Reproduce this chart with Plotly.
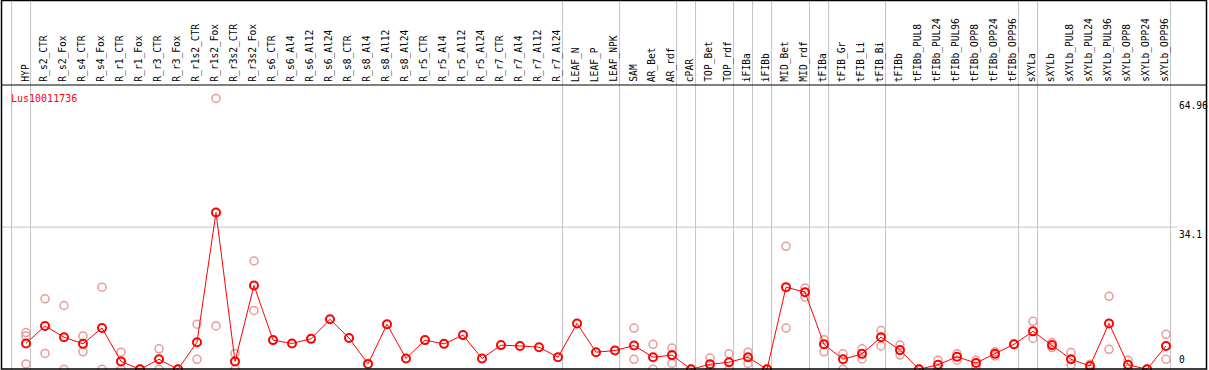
import plotly.graph_objects as go

gene = "Lus10011736"

categories = [
    "HYP", "R_s2_CTR", "R_s2_Fox", "R_s4_CTR", "R_s4_Fox", "R_r1_CTR", "R_r1_Fox",
    "R_r3_CTR", "R_r3_Fox", "R_r1s2_CTR", "R_r1s2_Fox", "R_r3s2_CTR", "R_r3s2_Fox",
    "R_s6_CTR", "R_s6_Al4", "R_s6_Al12", "R_s6_Al24", "R_s8_CTR", "R_s8_Al4",
    "R_s8_Al12", "R_s8_Al24", "R_r5_CTR", "R_r5_Al4", "R_r5_Al12", "R_r5_Al24",
    "R_r7_CTR", "R_r7_Al4", "R_r7_Al12", "R_r7_Al24", "LEAF_N", "LEAF_P", "LEAF_NPK",
    "SAM", "AR_Bet", "AR_rdf", "cPAR", "TOP_Bet", "TOP_rdf", "iFIBa", "iFIBb",
    "MID_Bet", "MID_rdf", "tFIBa", "tFIB_Gr", "tFIB_Li", "tFIB_Bi", "tFIBb",
    "tFIBb_PUL8", "tFIBb_PUL24", "tFIBb_PUL96", "tFIBb_OPP8", "tFIBb_OPP24",
    "tFIBb_OPP96", "sXYLa", "sXYLb", "sXYLb_PUL8", "sXYLb_PUL24", "sXYLb_PUL96",
    "sXYLb_OPP8", "sXYLb_OPP24", "sXYLb_OPP96",
]

means = [
    6.2, 10.4, 7.7, 6.1, 9.9, 1.9, 0.0, 2.4, 0.0, 6.5, 37.6, 1.9, 20.1,
    7.0, 6.2, 7.3, 12.0, 7.5, 1.3, 10.8, 2.6, 7.0, 6.1, 8.2, 2.6,
    5.8, 5.6, 5.3, 2.9, 11.0, 4.1, 4.5,
    5.7, 2.9, 3.4, 0.0, 1.2, 1.7, 2.9, 0.0,
    19.7, 18.5, 6.0, 2.4, 3.7, 7.7, 4.6,
    0.0, 1.1, 3.0, 1.5, 3.7, 6.0,
    9.1, 5.8, 2.4, 0.8, 11.0, 1.1, 0.0, 5.6,
]

N = None
rep1 = [
    8.8, 16.9, 15.3, 8.0, 19.7, 4.1, 0.0, 4.9, 0.0, 10.8, 64.96, 3.8, 26.0,
    N, N, N, N, N, N, N, N, N, N, N, N, N, N, N, N, N, N, N,
    9.9, 6.0, 5.1, 0.0, 2.7, 3.7, 4.1, 0.0,
    29.5, 19.5, 7.1, 3.7, 4.9, 9.3, 5.8,
    0.0, 2.2, 3.7, 2.2, 4.2, 6.0,
    11.5, 6.4, 4.0, 1.2, 17.5, 2.2, 0.0, 8.4,
]
rep2 = [
    8.0, 3.8, 0.0, 4.2, 0.0, 0.0, 0.0, 0.0, 0.0, 2.4, 10.4, 0.0, 14.1,
    N, N, N, N, N, N, N, N, N, N, N, N, N, N, N, N, N, N, N,
    2.4, 0.0, 1.4, 0.0, 0.0, 0.0, 1.4, 0.0,
    9.9, 17.3, 4.2, 0.0, 2.5, 5.6, 3.4,
    0.0, 0.0, 2.2, 0.6, 3.2, 6.0,
    7.4, 5.2, 1.1, 0.0, 4.8, 0.0, 0.0, 2.4,
]
rep3 = [1.3] + [N] * 60

# group separators: placed just after these column indices
separator_after = [-1, 0, 28, 31, 34, 35, 37, 38, 39, 41, 42, 45, 52, 53, 60]

y_ticks = [64.96, 34.1, 0]

W, H = 1209, 370
PX = 19.0            # px per column
X0PX = 26.0          # px of first column
PPU = 4.17           # px per unit of value
ZERO_PX = 369.3      # px (from top) of value 0

xr = [-X0PX / PX, (W - X0PX) / PX]
yr = [(ZERO_PX - H) / PPU, ZERO_PX / PPU]

xs = list(range(len(categories)))

def py(px_from_top):
    return 1 - px_from_top / H

def pxx(px):
    return px / W

fig = go.Figure()

pink = "#eb9a9a"
for reps in (rep1, rep2, rep3):
    fig.add_trace(go.Scatter(
        x=xs, y=reps, mode="markers",
        marker=dict(symbol="circle-open", size=8, color=pink, line=dict(width=1.5, color=pink)),
        hoverinfo="skip", showlegend=False,
    ))

fig.add_trace(go.Scatter(
    x=xs, y=means, mode="lines+markers",
    line=dict(color="#ff0000", width=1),
    marker=dict(symbol="circle-open", size=8, color="#ff0000", line=dict(width=2, color="#ff0000")),
    showlegend=False,
))

shapes = []
for s in separator_after:
    shapes.append(dict(type="line", xref="x", yref="paper", x0=s + 0.24, x1=s + 0.24,
                       y0=0, y1=1, line=dict(color="#c4c4c4", width=1), layer="below"))
shapes.append(dict(type="line", xref="paper", yref="y", x0=pxx(1), x1=pxx(1177),
                   y0=y_ticks[1], y1=y_ticks[1], line=dict(color="#c4c4c4", width=1), layer="below"))
shapes.append(dict(type="line", xref="paper", yref="paper", x0=pxx(1), x1=pxx(1207),
                   y0=py(85), y1=py(85), line=dict(color="#000000", width=1)))
shapes.append(dict(type="rect", xref="paper", yref="paper", x0=pxx(1.5), x1=pxx(1206.5),
                   y0=py(369), y1=py(0.5), line=dict(color="#000000", width=1.5)))

annotations = []
mono = "DejaVu Sans Mono"
for i, c in enumerate(categories):
    annotations.append(dict(
        x=i - 0.07, y=py(84), xref="x", yref="paper", text=c, showarrow=False,
        textangle=-90, xanchor="center", yanchor="bottom",
        font=dict(family=mono, size=9.6, color="#000000"),
    ))

annotations.append(dict(x=pxx(9), y=py(91), xref="paper", yref="paper", text=gene,
                        showarrow=False, xanchor="left", yanchor="top",
                        font=dict(family=mono, size=10, color="#ff0000")))

for k, anchor in enumerate(["top", "top", "bottom"]):
    annotations.append(dict(x=pxx(1177), y=y_ticks[k], xref="paper", yref="y", text=str(y_ticks[k]),
                            showarrow=False, xanchor="left", yanchor=anchor,
                            yshift=2 if anchor == "bottom" else 0,
                            font=dict(family=mono, size=9.6, color="#000000")))

fig.update_layout(
    width=W, height=H,
    margin=dict(l=0, r=0, t=0, b=0, pad=0),
    paper_bgcolor="#ffffff", plot_bgcolor="#ffffff",
    xaxis=dict(range=xr, visible=False, showgrid=False, zeroline=False, fixedrange=True),
    yaxis=dict(range=yr, visible=False, showgrid=False, zeroline=False, fixedrange=True),
    shapes=shapes, annotations=annotations,
    showlegend=False,
)

fig.write_html("out.html", config={"displayModeBar": False},
               post_script="document.body.style.margin='0';document.body.style.overflow='hidden';")
